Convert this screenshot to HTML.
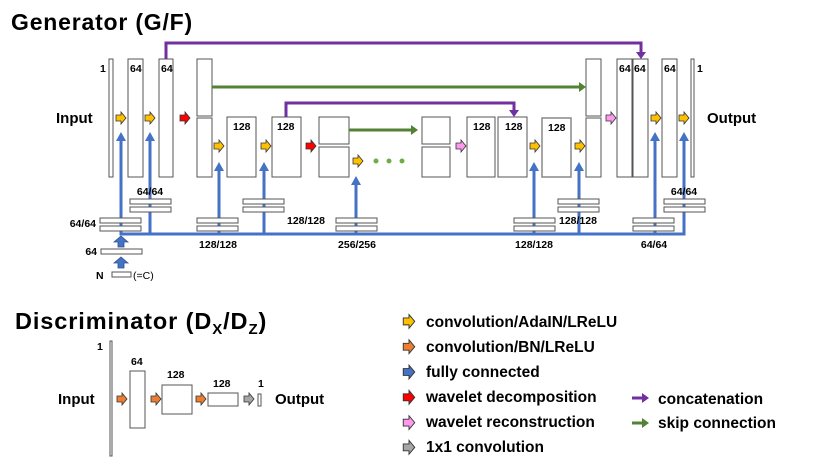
<!DOCTYPE html>
<html><head><meta charset="utf-8"><style>
body{margin:0;background:#fff}
svg{display:block;font-family:"Liberation Sans",sans-serif}
.t{font-weight:bold;font-size:10.5px;fill:#000}
.l{font-weight:bold;font-size:15px;fill:#000}
.g{font-weight:bold;font-size:15.5px;fill:#000}
</style></head><body>
<svg width="830" height="470" viewBox="0 0 830 470">
<defs>
<polygon id="a" points="-5,-3 0,-3 0,-6 5,0 0,6 0,3 -5,3" stroke="#333" stroke-width="0.8"/>
<g id="db"><rect x="0" y="0" width="41" height="5" fill="#fff" stroke="#555" stroke-width="1"/><rect x="0" y="8" width="41" height="5" fill="#fff" stroke="#555" stroke-width="1"/></g>
</defs>
<text x="11" y="30" font-size="23" font-weight="bold" letter-spacing="0.8">Generator (G/F)</text>
<g fill="#fff" stroke="#555" stroke-width="1">
<rect x="109" y="59" width="4" height="118"/>
<rect x="128" y="59" width="15" height="118"/>
<rect x="159" y="59" width="14" height="118"/>
<rect x="197" y="59" width="15" height="57"/>
<rect x="197" y="118" width="15" height="59"/>
<rect x="227" y="117" width="29" height="60"/>
<rect x="272" y="117" width="29" height="60"/>
<rect x="319" y="117" width="30" height="27"/>
<rect x="319" y="147" width="30" height="30"/>
<rect x="422" y="117" width="28" height="27"/>
<rect x="422" y="147" width="28" height="30"/>
<rect x="467" y="117" width="28" height="60"/>
<rect x="498" y="117" width="29" height="60"/>
<rect x="542" y="118" width="29" height="59" stroke="#888" stroke-width="1.5"/>
<rect x="586" y="59" width="15" height="57"/>
<rect x="586" y="118" width="15" height="59"/>
<rect x="617" y="59" width="15" height="118"/>
<rect x="633" y="59" width="15" height="118"/>
<rect x="662" y="59" width="15" height="118"/>
<rect x="691" y="59" width="3" height="118"/>
</g>
<g class="t">
<text x="100" y="72">1</text><text x="130" y="72">64</text><text x="161" y="72">64</text>
<text x="233" y="130">128</text><text x="277" y="130">128</text>
<text x="473" y="130">128</text><text x="505" y="130">128</text><text x="548" y="131">128</text>
<text x="619" y="72">64</text><text x="634" y="72">64</text><text x="664" y="72">64</text><text x="697" y="72">1</text>
</g>
<text x="56" y="123" class="l">Input</text>
<text x="707" y="123" class="l">Output</text>
<g fill="none" stroke-width="3">
<polyline points="166,59 166,43 641,43 641,53" stroke="#7030a0"/>
<polyline points="212,87 580,87" stroke="#548235"/>
<polyline points="286,117 286,103 514,103 514,111" stroke="#7030a0"/>
<polyline points="349,130 412,130" stroke="#548235"/>
</g>
<polygon points="636,52 646,52 641,59" fill="#7030a0"/>
<polygon points="509,110 519,110 514,117" fill="#7030a0"/>
<polygon points="579,82 586,87 579,92" fill="#548235"/>
<polygon points="411,125 418,130 411,135" fill="#548235"/>
<g fill="#70ad47"><circle cx="376" cy="161" r="2.5"/><circle cx="389" cy="161" r="2.5"/><circle cx="402" cy="161" r="2.5"/></g>
<g stroke="#4472c4" stroke-width="3" fill="none">
<polyline points="121,140 121,234 684,234 684,140"/>
<line x1="150" y1="140" x2="150" y2="234"/>
<line x1="219" y1="170" x2="219" y2="234"/>
<line x1="264" y1="170" x2="264" y2="234"/>
<line x1="356" y1="184" x2="356" y2="234"/>
<line x1="534" y1="170" x2="534" y2="234"/>
<line x1="579" y1="170" x2="579" y2="234"/>
<line x1="655" y1="140" x2="655" y2="234"/>
</g>
<g fill="#4472c4">
<polygon points="116,141 126,141 121,132"/><polygon points="145,141 155,141 150,132"/>
<polygon points="214,171 224,171 219,162"/><polygon points="259,171 269,171 264,162"/>
<polygon points="351,185 361,185 356,176"/><polygon points="529,171 539,171 534,162"/>
<polygon points="574,171 584,171 579,162"/><polygon points="650,141 660,141 655,132"/>
<polygon points="679,141 689,141 684,132"/>
</g>
<use href="#db" x="100" y="218"/><use href="#db" x="130" y="199"/>
<use href="#db" x="197" y="218"/><use href="#db" x="243" y="199"/>
<use href="#db" x="336" y="218"/><use href="#db" x="514" y="218"/>
<use href="#db" x="558" y="199"/><use href="#db" x="633" y="218"/>
<use href="#db" x="664" y="199"/>
<g class="t">
<text x="96" y="227" text-anchor="end">64/64</text>
<text x="150" y="195" text-anchor="middle">64/64</text>
<text x="218" y="248" text-anchor="middle">128/128</text>
<text x="287" y="224">128/128</text>
<text x="357" y="248" text-anchor="middle">256/256</text>
<text x="534" y="248" text-anchor="middle">128/128</text>
<text x="559" y="224">128/128</text>
<text x="654" y="248" text-anchor="middle">64/64</text>
<text x="684" y="195" text-anchor="middle">64/64</text>
<text x="97" y="255" text-anchor="end">64</text>
<text x="96" y="279">N</text>
<text x="133" y="279" font-weight="normal">(=C)</text>
</g>
<rect x="101" y="249" width="41" height="5" fill="#fff" stroke="#555"/>
<rect x="112" y="272" width="19" height="5" fill="#fff" stroke="#555"/>
<g fill="#4472c4" stroke="#2f528f" stroke-width="0.8">
<polygon points="118,247 124,247 124,242 128,242 121,236 114,242 118,242"/>
<polygon points="118,268 124,268 124,263 128,263 121,257 114,263 118,263"/>
</g>
<g fill="#ffc000">
<use href="#a" x="121" y="118"/><use href="#a" x="150" y="118"/>
<use href="#a" x="219" y="146"/><use href="#a" x="266" y="146"/>
<use href="#a" x="358" y="161"/>
<use href="#a" x="535" y="146"/><use href="#a" x="580" y="146"/>
<use href="#a" x="656" y="118"/><use href="#a" x="684" y="118"/>
</g>
<g fill="#ff0000"><use href="#a" x="185" y="118"/><use href="#a" x="311" y="146"/></g>
<g fill="#ff99ee"><use href="#a" x="461" y="146"/><use href="#a" x="611" y="118"/></g>
<text x="15" y="329" font-size="23.5" font-weight="bold" letter-spacing="0.9">Discriminator (D<tspan font-size="15" dy="5">X</tspan><tspan dy="-5">/D</tspan><tspan font-size="15" dy="5">Z</tspan><tspan dy="-5">)</tspan></text>
<g fill="#fff" stroke="#555" stroke-width="1">
<rect x="110" y="341" width="2" height="115"/>
<rect x="130" y="371" width="15" height="57"/>
<rect x="162" y="385" width="30" height="29"/>
<rect x="208" y="393" width="30" height="13"/>
<rect x="258" y="394" width="3" height="12"/>
</g>
<g class="t">
<text x="97" y="350">1</text><text x="131" y="365">64</text><text x="167" y="378">128</text>
<text x="213" y="387">128</text><text x="258" y="387">1</text>
</g>
<text x="58" y="404" class="l">Input</text>
<text x="275" y="404" class="l">Output</text>
<g fill="#ed7d31"><use href="#a" x="122" y="399"/><use href="#a" x="156" y="399"/><use href="#a" x="201" y="399"/></g>
<g fill="#a6a6a6"><use href="#a" x="249" y="399"/></g>
<g transform="translate(409,0) scale(1.15)">
<use href="#a" x="0" y="279.5" fill="#ffc000"/>
<use href="#a" x="0" y="301.5" fill="#ed7d31"/>
<use href="#a" x="0" y="323.5" fill="#4472c4"/>
<use href="#a" x="0" y="345.5" fill="#ff0000"/>
<use href="#a" x="0" y="367.5" fill="#ff99ee"/>
<use href="#a" x="0" y="389" fill="#a6a6a6"/>
</g>
<g class="g">
<text x="426" y="327">convolution/AdaIN/LReLU</text>
<text x="426" y="352">convolution/BN/LReLU</text>
<text x="426" y="377">fully connected</text>
<text x="426" y="402">wavelet decomposition</text>
<text x="426" y="427">wavelet reconstruction</text>
<text x="426" y="452">1x1 convolution</text>
<text x="658" y="404">concatenation</text>
<text x="658" y="428">skip connection</text>
</g>
<line x1="632" y1="398" x2="643" y2="398" stroke="#7030a0" stroke-width="3"/>
<polygon points="642,393 649,398 642,403" fill="#7030a0"/>
<line x1="632" y1="423" x2="643" y2="423" stroke="#548235" stroke-width="3"/>
<polygon points="642,418 649,423 642,428" fill="#548235"/>
</svg>
</body></html>
